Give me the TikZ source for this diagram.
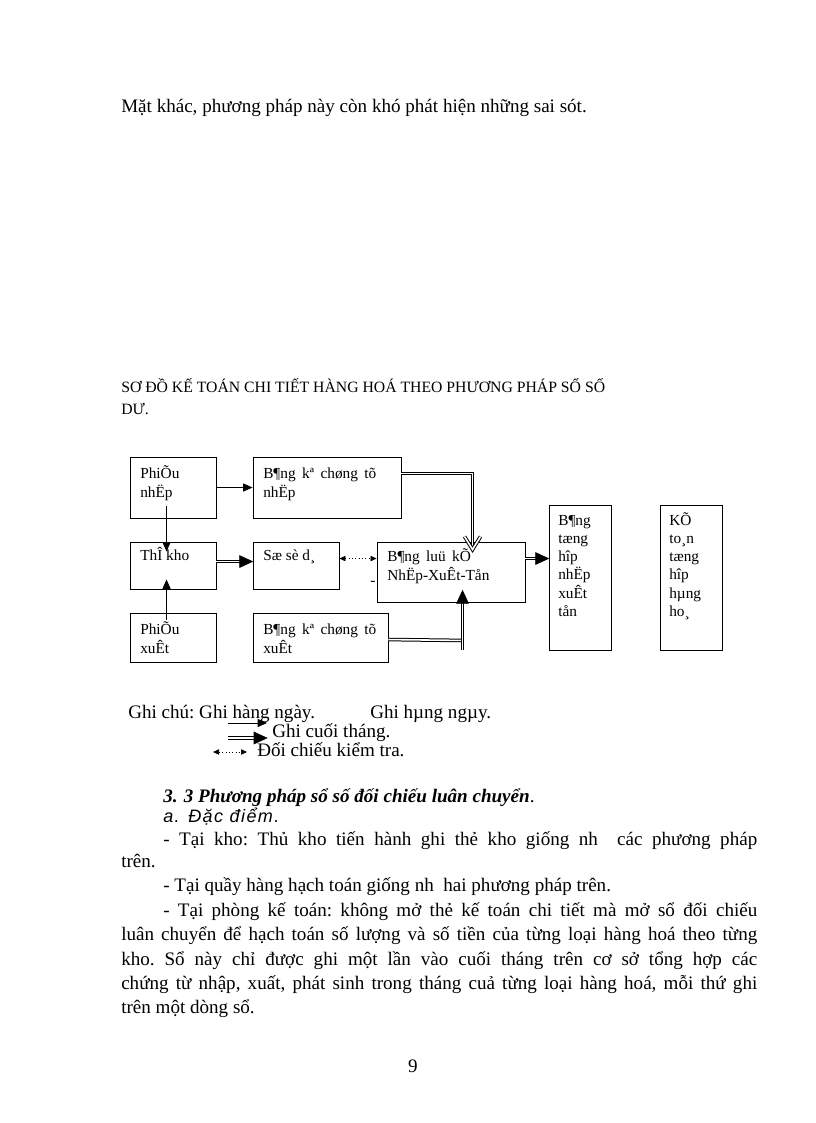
\documentclass[tikz,border=0pt]{standalone}
\usepackage{fontspec}
\setmainfont{Liberation Serif}
\newfontfamily\sansf{Liberation Sans}[LetterSpace=8]
\usetikzlibrary{arrows.meta,fit,calc}
\tikzset{
  box/.style={draw, line width=0.7pt, inner sep=0pt},
  t/.style={inner sep=0pt, anchor=base west},
  body/.style={t, font=\frenchspacing\fontsize{14.3}{16}\selectfont},
  btxt/.style={t, font=\frenchspacing\fontsize{11.5}{13}\selectfont},
  arr/.style={line width=0.6pt, -{Triangle[length=7pt,width=6pt]}},
  dblline/.style={double, line width=0.75pt, double distance=1.2pt},
  dblshort/.style={dblline, shorten >=9pt},
  headfill/.style={fill=black, draw=black, line width=0.4pt, line join=miter},
  dotarr/.style={line width=0.5pt, dotted, {Triangle[length=4.5pt,width=4pt]}-{Triangle[length=4.5pt,width=4pt]}},
}
\newcommand\wsp{\hskip0.42em\relax}
% filled heads (pixel units, y downwards)
\newcommand\headR[1]{\filldraw[headfill] (#1) -- ++(-13,-6) -- ++(0,12) -- cycle;}
\newcommand\headU[1]{\filldraw[headfill] (#1) -- ++(-6,13) -- ++(12,0) -- cycle;}
\begin{document}
\begin{tikzpicture}[x=0.75pt,y=-0.75pt]
\useasboundingbox (0,0) rectangle (816,1123);
\fill[white] (0,0) rectangle (816,1123);

% top text
\node[body] (top) at (121,113) {Mặt khác, phương pháp này còn khó phát hiện những sai sót.};

% heading
\node[t, font=\fontsize{11.8}{14}\selectfont] (h1) at (121,392) {SƠ ĐỒ KẾ TOÁN CHI TIẾT HÀNG HOÁ THEO PHƯƠNG PHÁP SỔ SỐ};
\node[t, font=\fontsize{11.8}{14}\selectfont] (h2) at (121,414) {DƯ.};

% boxes
\node[box, fit={(130,457) (216,518)}] (pn) {};
\node[box, fit={(253,457) (401,518)}] (bkn) {};
\node[box, fit={(130,542) (216,589)}] (tk) {};
\node[box, fit={(253,542) (339,589)}] (ssd) {};
\node[box, fit={(377,542) (525,602)}] (blk) {};
\node[box, fit={(130,613) (216,662)}] (px) {};
\node[box, fit={(253,613) (388,662)}] (bkx) {};
\node[box, fit={(549,505) (611,650)}] (bth) {};
\node[box, fit={(660,505) (722,650)}] (ktth) {};

% box texts
\node[btxt] (pn1) at (140,478) {PhiÕu};
\node[btxt] (pn2) at (140,497) {nhËp};
\node[btxt] (bkn1) at (263,478) {B¶ng\wsp kª\wsp chøng\wsp tõ};
\node[btxt] (bkn2) at (263,497) {nhËp};
\node[btxt] (tk1) at (140,560) {ThÎ kho};
\node[btxt] (ssd1) at (263,560) {Sæ sè d¸};
\node[btxt] (blk1) at (387,561) {B¶ng\wsp luü\wsp kÕ};
\node[btxt] (blk2) at (387,580) {NhËp-XuÊt-Tån};
\node[btxt] (px1) at (140,634) {PhiÕu};
\node[btxt] (px2) at (140,653) {xuÊt};
\node[btxt] (bkx1) at (263,634) {B¶ng\wsp kª\wsp chøng\wsp tõ};
\node[btxt] (bkx2) at (263,653) {xuÊt};
\node[btxt] (bth1) at (558,525) {B¶ng};
\node[btxt] (bth2) at (558,543) {tæng};
\node[btxt] (bth3) at (558,561) {hîp};
\node[btxt] (bth4) at (558,579) {nhËp};
\node[btxt] (bth5) at (558,598) {xuÊt};
\node[btxt] (bth6) at (558,616) {tån};
\node[btxt] (kt1) at (669,525) {KÕ};
\node[btxt] (kt2) at (669,543) {to¸n};
\node[btxt] (kt3) at (669,561) {tæng};
\node[btxt] (kt4) at (669,579) {hîp};
\node[btxt] (kt5) at (669,598) {hµng};
\node[btxt] (kt6) at (669,616) {ho¸};
\node[btxt] (dash) at (370,585) {-};

% connector end points (on or inside the named boxes)
\coordinate (tkE) at ($(tk.north east)+(0,20)$);
\coordinate (ssdW) at ($(ssd.north west)+(0,20)$);
\coordinate (blkE) at ($(blk.north east)+(0,17)$);
\coordinate (bthW) at ($(bth.north west)+(0,54)$);
\coordinate (blkB) at ($(blk.south west)+(86,48)$);
\coordinate (blkBin) at ($(blk.south west)+(86,-12)$);
\coordinate (vtip) at ($(blk.north west)+(96,8)$);

% connectors
\draw[arr] (pn.east) -- (bkn.west);
\draw[arr] ($(pn.south west)+(37,-12)$) -- ($(tk.north west)+(37,10)$);
\draw[arr] ($(px.north west)+(37,7)$) -- ($(tk.south west)+(37,-10)$);
% Thẻ kho => Sổ số dư
\draw[dblshort] (tkE) -- (ssdW);
\headR{ssdW}
% Sổ số dư <-> Bảng lũy kế
\draw[dotarr] ($(ssd.north east)+(0,17)$) -- ($(blk.north west)+(0,17)$);
% Bảng kê nhập => Bảng lũy kế (open head)
\draw[dblline, shorten >=1.5pt] ($(bkn.north east)+(0,17)$) -| (vtip);
\draw[dblline, line join=miter] ($(vtip)+(-8,-13)$) -- (vtip) -- ($(vtip)+(8,-13)$);
% Bảng kê xuất => Bảng lũy kế
\draw[dblline] ($(bkx.north east)+(0,27)$) -- ($(blk.south west)+(86,38)$);
\draw[dblshort] (blkB) -- (blkBin);
\headU{blkBin}
% Bảng lũy kế => Bảng tổng hợp
\draw[dblshort] (blkE) -- (bthW);
\headR{bthW}

% legend
\node[body] (lg1) at (128,718) {Ghi chú: Ghi hàng ngày.};
\node[body] (lg1b) at (370,718) {Ghi hµng ngµy.};
\node[body] (lg2) at (272,737) {Ghi cuối tháng.};
\node[body] (lg3) at (257,756) {Đối chiếu kiểm tra.};
\coordinate (la1) at (228,723);
\coordinate (la2) at (228,738);
\coordinate (la2e) at ($(lg2.base west)+(-5,1)$);
\coordinate (la3) at (213,752);
\draw[arr] (la1) -- ($(lg1.base west)+(139,5)$);
\draw[dblshort] (la2) -- (la2e);
\headR{la2e}
\draw[dotarr] (la3) -- ($(lg3.base west)+(-10,-4)$);

% body text
\node[t, font=\bfseries\itshape\fontsize{14.3}{16}\selectfont] (s1) at (163,802) {3. 3 Phương pháp sổ số đối chiếu luân chuyển\normalfont.};
\node[t, font=\sansf\itshape\fontsize{13.5}{15}\selectfont] (s2) at (163,822) {a. Đặc điểm.};
\node[body] (s3) at (163,845) {\makebox[445.5pt][s]{- Tại kho: Thủ kho tiến hành ghi thẻ kho giống nh\ \ các phương pháp}};
\node[body] (s4) at (121,867) {trên.};
\node[body] (s5) at (163,891) {- Tại quầy hàng hạch toán giống nh\ \ hai phương pháp trên.};
\node[body] (s6) at (163,916) {\makebox[445.5pt][s]{- Tại phòng kế toán: không mở thẻ kế toán chi tiết mà mở sổ đối chiếu}};
\node[body] (s7) at (121,940) {\makebox[477pt][s]{luân chuyển để hạch toán số lượng và số tiền của từng loại hàng hoá theo từng}};
\node[body] (s8) at (121,965) {\makebox[477pt][s]{kho. Sổ này chỉ được ghi một lần vào cuối tháng trên cơ sở tổng hợp các}};
\node[body] (s9) at (121,989) {\makebox[477pt][s]{chứng từ nhập, xuất, phát sinh trong tháng cuả từng loại hàng hoá, mỗi thứ ghi}};
\node[body] (s10) at (121,1013) {trên một dòng sổ.};

% page number
\node[body, anchor=base] (pg) at (413,1072) {9};
\end{tikzpicture}
\end{document}
